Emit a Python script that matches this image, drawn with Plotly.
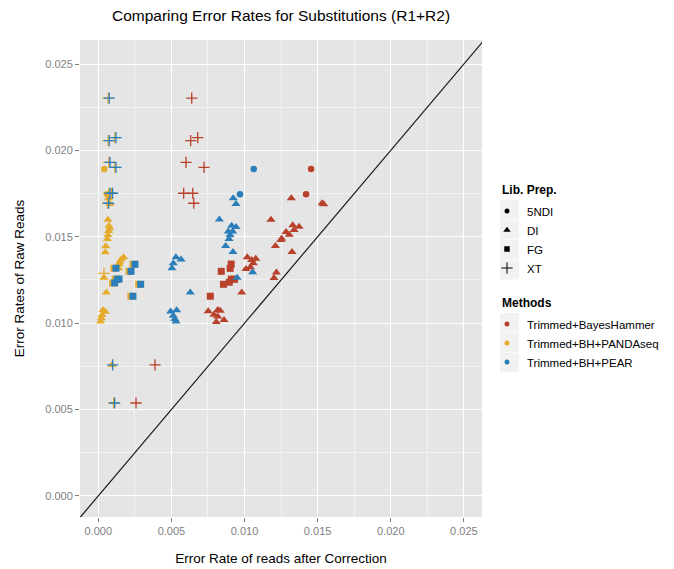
import plotly.graph_objects as go

# ---------------- data ----------------
methods = ["Trimmed+BayesHammer", "Trimmed+BH+PANDAseq", "Trimmed+BH+PEAR"]
preps = ["5NDI", "DI", "FG", "XT"]
method_colors = ["#B8412B", "#E5AB2C", "#2B7EB9"]

# Trimmed+BayesHammer
bh_5ndi_x = [0.01455, 0.01421]
bh_5ndi_y = [0.01892, 0.01746]
bh_di_x = [0.01320, 0.01530, 0.01542, 0.01181, 0.01330, 0.01373, 0.01339, 0.01284, 0.01306,
           0.01254, 0.01248, 0.01211, 0.01325, 0.01019, 0.01049, 0.01077, 0.01060, 0.01010,
           0.01040, 0.01218, 0.01202, 0.00981, 0.00752, 0.00817, 0.00834, 0.00791, 0.00817,
           0.00807, 0.00860]
bh_di_y = [0.01723, 0.01694, 0.01688, 0.01599, 0.01567, 0.01558, 0.01539, 0.01528, 0.01512,
           0.01489, 0.01481, 0.01447, 0.01412, 0.01381, 0.01366, 0.01373, 0.01347, 0.01314,
           0.01324, 0.01293, 0.01262, 0.01177, 0.01069, 0.01076, 0.01072, 0.01049, 0.01038,
           0.01007, 0.01019]
bh_fg_x = [0.00909, 0.00902, 0.00841, 0.00856, 0.00896, 0.00910, 0.00932, 0.00766]
bh_fg_y = [0.01342, 0.01317, 0.01300, 0.01225, 0.01237, 0.01255, 0.01254, 0.01156]
bh_xt_x = [0.00639, 0.00632, 0.00680, 0.00600, 0.00723, 0.00584, 0.00646, 0.00653, 0.00388, 0.00258]
bh_xt_y = [0.02303, 0.02056, 0.02074, 0.01931, 0.01902, 0.01752, 0.01752, 0.01694, 0.00758, 0.00538]

# Trimmed+BH+PANDAseq
pa_5ndi_x = [0.00041, 0.00060]
pa_5ndi_y = [0.01892, 0.01746]
pa_di_x = [0.00070, 0.00080, 0.00066, 0.00073, 0.00078, 0.00071, 0.00066, 0.00062, 0.00051,
           0.00048, 0.00174, 0.00157, 0.00148, 0.00144, 0.00140, 0.00039, 0.00055, 0.00032,
           0.00048, 0.00025, 0.00021, 0.00016, 0.00094]
pa_di_y = [0.01723, 0.01690, 0.01599, 0.01564, 0.01549, 0.01534, 0.01510, 0.01487, 0.01445,
           0.01410, 0.01381, 0.01370, 0.01356, 0.01341, 0.01318, 0.01263, 0.01177, 0.01076,
           0.01066, 0.01047, 0.01028, 0.01009, 0.00758]
pa_fg_x = [0.00237, 0.00107, 0.00210, 0.00116, 0.00098, 0.00276, 0.00223, 0.00128]
pa_fg_y = [0.01341, 0.01318, 0.01300, 0.01254, 0.01233, 0.01225, 0.01156, 0.01255]
pa_xt_x = [0.00067, 0.00067, 0.00113, 0.00072, 0.00113, 0.00072, 0.00090, 0.00063, 0.00039, 0.00104]
pa_xt_y = [0.02303, 0.02056, 0.02074, 0.01931, 0.01902, 0.01752, 0.01752, 0.01694, 0.01288, 0.00538]

# Trimmed+BH+PEAR
pe_5ndi_x = [0.01063, 0.00969]
pe_5ndi_y = [0.01892, 0.01746]
pe_di_x = [0.00923, 0.00942, 0.00828, 0.00912, 0.00942, 0.00889, 0.00919, 0.00901, 0.00894,
           0.00871, 0.00921, 0.00531, 0.00566, 0.00513, 0.00504, 0.01056, 0.00949, 0.00629,
           0.00495, 0.00536, 0.00513, 0.00523, 0.00531]
pe_di_y = [0.01723, 0.01690, 0.01600, 0.01564, 0.01557, 0.01530, 0.01530, 0.01510, 0.01487,
           0.01447, 0.01412, 0.01381, 0.01368, 0.01347, 0.01318, 0.01295, 0.01263, 0.01177,
           0.01067, 0.01075, 0.01043, 0.01024, 0.01009]
pe_fg_x = [0.00251, 0.00121, 0.00224, 0.00130, 0.00112, 0.00290, 0.00237, 0.00142]
pe_fg_y = [0.01341, 0.01318, 0.01300, 0.01254, 0.01233, 0.01225, 0.01156, 0.01255]
pe_xt_x = [0.00075, 0.00075, 0.00121, 0.00080, 0.00121, 0.00080, 0.00098, 0.00071, 0.00098, 0.00112]
pe_xt_y = [0.02303, 0.02056, 0.02074, 0.01931, 0.01902, 0.01752, 0.01752, 0.01694, 0.00758, 0.00538]

x_tick_vals = [0.000, 0.005, 0.010, 0.015, 0.020, 0.025]
x_tick_text = ["0.000", "0.005", "0.010", "0.015", "0.020", "0.025"]
y_tick_vals = [0.000, 0.005, 0.010, 0.015, 0.020, 0.025]
y_tick_text = ["0.000", "0.005", "0.010", "0.015", "0.020", "0.025"]

series = [
    [(bh_5ndi_x, bh_5ndi_y), (bh_di_x, bh_di_y), (bh_fg_x, bh_fg_y), (bh_xt_x, bh_xt_y)],
    [(pa_5ndi_x, pa_5ndi_y), (pa_di_x, pa_di_y), (pa_fg_x, pa_fg_y), (pa_xt_x, pa_xt_y)],
    [(pe_5ndi_x, pe_5ndi_y), (pe_di_x, pe_di_y), (pe_fg_x, pe_fg_y), (pe_xt_x, pe_xt_y)],
]

# ---------------- styles ----------------
symbols = {"5NDI": "circle", "DI": "triangle-up", "FG": "square", "XT": "cross-thin"}
sizes = {"5NDI": 6.5, "DI": 8, "FG": 7, "XT": 8}
FONT = "Liberation Sans, Arial, Helvetica, sans-serif"

# page body has an 8px margin, so the figure is drawn 8px smaller and offset
OFF = 8
W, H = 674 - OFF, 569 - OFF
L, R, T, B = 80 - OFF, 192, 40 - OFF, 52
PW, PH = W - L - R, H - T - B

fig = go.Figure()

# reference line y = x
fig.add_trace(go.Scatter(x=[-0.01, 0.04], y=[-0.01, 0.04], mode="lines",
                         line=dict(color="#1a1a1a", width=1.2), showlegend=False,
                         hoverinfo="skip"))

for mi, m in enumerate(methods):
    col = method_colors[mi]
    for pi, p in enumerate(preps):
        xs, ys = series[mi][pi]
        mk = dict(symbol=symbols[p], size=sizes[p], color=col)
        if p == "XT":
            mk["line"] = dict(color=col, width=1.3)
        else:
            mk["line"] = dict(width=0)
        fig.add_trace(go.Scatter(x=xs, y=ys, mode="markers", marker=mk,
                                 name=f"{m} {p}", showlegend=False))

# legend entries: Lib. Prep.
for p in preps:
    mk = dict(symbol=symbols[p], size={"5NDI": 5, "DI": 6.5, "FG": 5.5, "XT": 8}[p], color="black")
    if p == "XT":
        mk["line"] = dict(color="black", width=1.0)
    else:
        mk["line"] = dict(width=0)
    fig.add_trace(go.Scatter(x=[None], y=[None], mode="markers", marker=mk,
                             name=p, legend="legend", showlegend=True))
# legend entries: Methods
for mi, m in enumerate(methods):
    fig.add_trace(go.Scatter(x=[None], y=[None], mode="markers",
                             marker=dict(symbol="circle", size=5, color=method_colors[mi]),
                             name=m, legend="legend2", showlegend=True))


# helpers take viewport pixel coordinates
def px2paper_x(px):
    return (px - OFF - L) / PW


def px2paper_y(py):
    return (H - B - (py - OFF)) / PH


# legend key background boxes
shapes = []
for i in range(4):
    y0 = 200 + 20 * i
    shapes.append(dict(type="rect", xref="paper", yref="paper",
                       x0=px2paper_x(500), x1=px2paper_x(519),
                       y0=px2paper_y(y0 + 19.5), y1=px2paper_y(y0),
                       fillcolor="#F2F2F2", line=dict(width=0), layer="below"))
for i in range(3):
    y0 = 313 + 20 * i
    shapes.append(dict(type="rect", xref="paper", yref="paper",
                       x0=px2paper_x(500), x1=px2paper_x(519),
                       y0=px2paper_y(y0 + 19.5), y1=px2paper_y(y0),
                       fillcolor="#F2F2F2", line=dict(width=0), layer="below"))

# legend titles
annotations = [
    dict(text="<b>Lib. Prep.</b>", xref="paper", yref="paper", x=px2paper_x(500), y=px2paper_y(190),
         xanchor="left", yanchor="middle", showarrow=False, font=dict(family=FONT, size=12, color="black")),
    dict(text="<b>Methods</b>", xref="paper", yref="paper", x=px2paper_x(500), y=px2paper_y(303),
         xanchor="left", yanchor="middle", showarrow=False, font=dict(family=FONT, size=12, color="black")),
]

axis_common = dict(
    showline=False, zeroline=False,
    showgrid=True, gridcolor="white", gridwidth=1.4,
    ticks="outside", ticklen=4, tickwidth=1, tickcolor="#7F7F7F",
    tickfont=dict(family=FONT, size=11, color="#7F7F7F"),
    minor=dict(dtick=0.0025, tick0=0, showgrid=True, gridcolor="#F2F2F2", gridwidth=0.7, ticks=""),
)

fig.update_layout(
    width=W, height=H,
    margin=dict(l=L, r=R, t=T, b=B, autoexpand=False),
    paper_bgcolor="white", plot_bgcolor="#E5E5E5",
    font=dict(family=FONT, color="black"),
    title=dict(text="Comparing Error Rates for Substitutions (R1+R2)",
               x=(L + PW / 2) / W, xanchor="center", y=1 - 8 / H, yanchor="middle",
               font=dict(family=FONT, size=15.5, color="black")),
    xaxis=dict(axis_common, range=[-0.00125, 0.02624], tickvals=x_tick_vals, ticktext=x_tick_text,
               title=dict(text="Error Rate of reads after Correction", standoff=17,
                          font=dict(family=FONT, size=13.5, color="black"))),
    yaxis=dict(axis_common, range=[-0.00122, 0.02639], tickvals=y_tick_vals, ticktext=y_tick_text,
               title=dict(text="Error Rates of Raw Reads", standoff=17,
                          font=dict(family=FONT, size=13.5, color="black"))),
    legend=dict(x=px2paper_x(487), y=px2paper_y(196.5), xanchor="left", yanchor="top",
                bgcolor="rgba(0,0,0,0)", font=dict(family=FONT, size=11.5),
                itemsizing="trace", tracegroupgap=0),
    legend2=dict(x=px2paper_x(487), y=px2paper_y(309.5), xanchor="left", yanchor="top",
                 bgcolor="rgba(0,0,0,0)", font=dict(family=FONT, size=11.5),
                 itemsizing="trace", tracegroupgap=0),
    shapes=shapes,
    annotations=annotations,
)

fig.write_html("out.html")
